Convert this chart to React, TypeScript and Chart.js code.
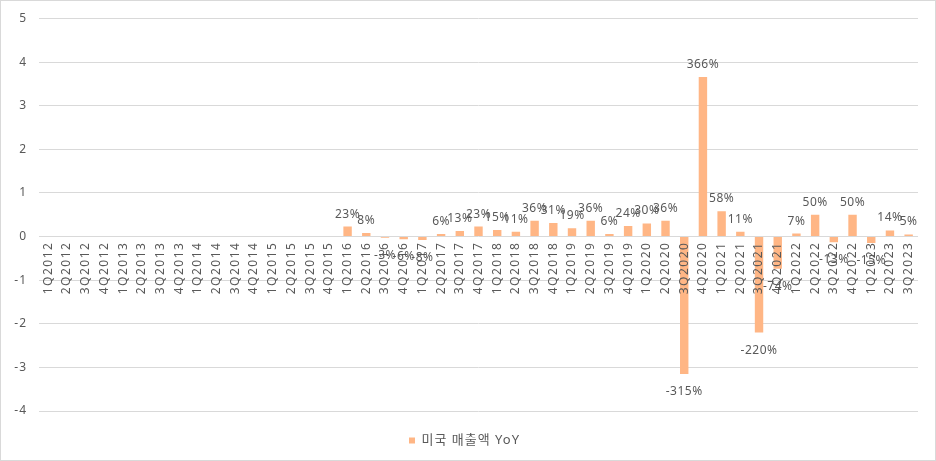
import React, { useEffect, useRef } from "react";
import { Chart, registerables } from "chart.js";

Chart.register(...registerables);

const quarters: string[] = [
  "1Q2012", "2Q2012", "3Q2012", "4Q2012",
  "1Q2013", "2Q2013", "3Q2013", "4Q2013",
  "1Q2014", "2Q2014", "3Q2014", "4Q2014",
  "1Q2015", "2Q2015", "3Q2015", "4Q2015",
  "1Q2016", "2Q2016", "3Q2016", "4Q2016",
  "1Q2017", "2Q2017", "3Q2017", "4Q2017",
  "1Q2018", "2Q2018", "3Q2018", "4Q2018",
  "1Q2019", "2Q2019", "3Q2019", "4Q2019",
  "1Q2020", "2Q2020", "3Q2020", "4Q2020",
  "1Q2021", "2Q2021", "3Q2021", "4Q2021",
  "1Q2022", "2Q2022", "3Q2022", "4Q2022",
  "1Q2023", "2Q2023", "3Q2023",
];

const usSalesYoY: (number | null)[] = [
  null, null, null, null,
  null, null, null, null,
  null, null, null, null,
  null, null, null, null,
  0.23, 0.08, -0.03, -0.06,
  -0.08, 0.06, 0.13, 0.23,
  0.15, 0.11, 0.36, 0.31,
  0.19, 0.36, 0.06, 0.24,
  0.30, 0.36, -3.15, 3.66,
  0.58, 0.11, -2.20, -0.74,
  0.07, 0.50, -0.13, 0.50,
  -0.15, 0.14, 0.05,
];

const seriesName = "미국 매출액 YoY";
const yMin = -4;
const yMax = 5;

const FONT = "'Noto Sans', 'Noto Sans CJK KR', sans-serif";
const TEXT = "#595959";
const GRID = "#d9d9d9";
const BAR = "#ffb685";

export default function App() {
  const ref = useRef<HTMLCanvasElement | null>(null);

  useEffect(() => {
    document.body.style.margin = "0";
    const canvas = ref.current;
    if (!canvas) return;

    const labelPlugin = {
      id: "barValueLabels",
      beforeDraw(chart: any) {
        (chart.ctx as any).letterSpacing = "1px";
      },
      afterDatasetsDraw(chart: any) {
        const ctx = chart.ctx as CanvasRenderingContext2D;
        const meta = chart.getDatasetMeta(0);
        const data = chart.data.datasets[0].data as (number | null)[];
        ctx.save();
        (ctx as any).letterSpacing = "0.5px";
        ctx.font = `12px ${FONT}`;
        ctx.fillStyle = TEXT;
        ctx.textAlign = "center";
        ctx.textBaseline = "alphabetic";
        meta.data.forEach((bar: any, i: number) => {
          const v = data[i];
          if (v === null || v === undefined) return;
          const txt = `${Math.round(v * 100)}%`;
          if (v >= 0) {
            ctx.fillText(txt, bar.x, bar.y - 9);
          } else {
            ctx.fillText(txt, bar.x, bar.y + 21);
          }
        });
        ctx.restore();
        (ctx as any).letterSpacing = "1.5px";
      },
      afterDraw(chart: any) {
        (chart.ctx as any).letterSpacing = "0px";
      },
    };

    const chart = new Chart(canvas, {
      type: "bar",
      data: {
        labels: quarters,
        datasets: [
          {
            label: seriesName,
            data: usSalesYoY,
            backgroundColor: BAR,
            borderWidth: 0,
            barPercentage: 0.45,
            categoryPercentage: 1,
          },
        ],
      },
      options: {
        animation: false,
        responsive: false,
        maintainAspectRatio: false,
        layout: { padding: { left: 0, right: 17, top: 17.5, bottom: 3 } },
        plugins: {
          legend: {
            position: "bottom",
            labels: {
              boxWidth: 6,
              boxHeight: 6,
              color: TEXT,
              font: { family: FONT, size: 13 },
              padding: 23,
            },
          },
          tooltip: { enabled: false },
        },
        scales: {
          x: {
            position: { y: 0 } as any,
            grid: { display: false, drawTicks: false },
            border: { display: false },
            afterFit: (scale: any) => {
              scale.paddingTop = 0;
              scale.paddingBottom = 0;
            },
            ticks: {
              z: 1,
              autoSkip: false,
              maxRotation: 90,
              minRotation: 90,
              padding: 5,
              color: TEXT,
              font: { family: FONT, size: 12 },
            },
          },
          y: {
            min: yMin,
            max: yMax,
            afterFit: (scale: any) => {
              scale.width = 38;
              scale.paddingTop = 0;
              scale.paddingBottom = 0;
            },
            grid: { color: GRID, lineWidth: 1, drawTicks: false },
            border: { display: false },
            ticks: {
              stepSize: 1,
              padding: 12,
              color: TEXT,
              font: { family: FONT, size: 12 },
              callback: (v: any) => String(v),
            },
          },
        },
      },
      plugins: [labelPlugin],
    });

    return () => chart.destroy();
  }, []);

  return (
    <div
      style={{
        width: 936,
        height: 461,
        boxSizing: "border-box",
        border: "1px solid #d9d9d9",
        background: "#fff",
      }}
    >
      <canvas ref={ref} width={934} height={459} style={{ display: "block" }} />
    </div>
  );
}
